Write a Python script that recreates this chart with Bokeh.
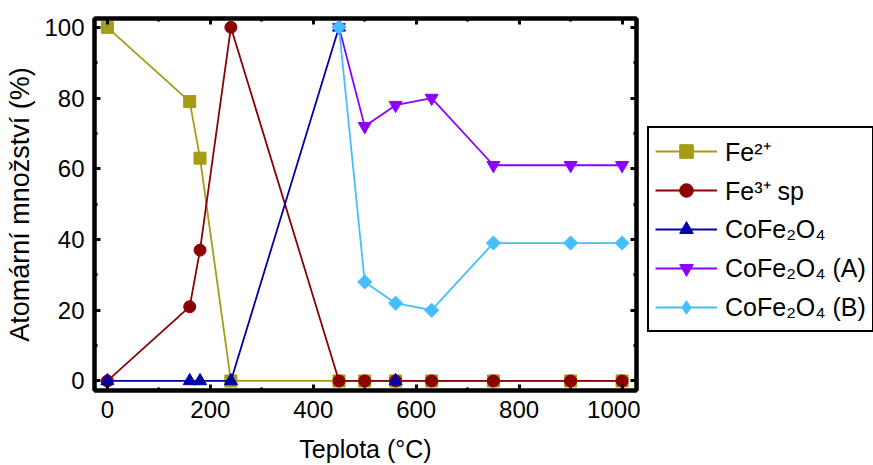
import numpy as np
from bokeh.plotting import figure
from bokeh.layouts import row
from bokeh.models import (ColumnDataSource, LinearAxis, SingleIntervalTicker, Range1d,
                          Legend, CustomJSTickFormatter)
from bokeh.embed import file_html
from bokeh.resources import INLINE

nan = float("nan")
temps = [0, 160, 180, 240, 450, 500, 560, 630, 750, 900, 1000]
fe2 = [100, 79, 63, 0, 0, 0, 0, 0, 0, 0, 0]
fe3_sp = [0, 21, 37, 100, 0, 0, 0, 0, 0, 0, 0]
cofe2o4 = [0, 0, 0, 0, 100, nan, 0, nan, nan, nan, nan]
cofe2o4_a = [nan, nan, nan, nan, 100, 72, 78, 80, 61, 61, 61]
cofe2o4_b = [nan, nan, nan, nan, 100, 28, 22, 20, 39, 39, 39]

labels = ["Fe²⁺", "Fe³⁺ sp", "CoFe₂O₄", "CoFe₂O₄ (A)", "CoFe₂O₄ (B)"]
colors = ["#A39C14", "#8B0000", "#0000A8", "#8C00FF", "#45BEFF"]
markers = ["square", "circle", "triangle", "inverted_triangle", "square"]
legend_markers = ["square", "circle", "triangle", "inverted_triangle", "diamond"]
angles = [0, 0, 0, 0, np.pi / 4]
sizes = [12, 12, 13, 13, 10]
series = [fe2, fe3_sp, cofe2o4, cofe2o4_a, cofe2o4_b]

FONT = "Liberation Sans"

p = figure(width=640, height=465, output_backend="svg", toolbar_location=None,
           x_range=Range1d(-25, 1028), y_range=Range1d(-2.7, 102.5),
           min_border_left=94, min_border_top=18, min_border_right=4,
           min_border_bottom=75)
p.background_fill_color = "white"
p.border_fill_color = "white"
p.grid.visible = False
p.outline_line_color = "black"
p.outline_line_width = 4

for col, mk, ang, sz, ys in zip(colors, markers, angles, sizes, series):
    src = ColumnDataSource(dict(x=temps, y=ys))
    p.line("x", "y", source=src, line_color=col, line_width=1.8)
    p.scatter("x", "y", source=src, marker=mk, size=sz, angle=ang,
              fill_color=col, line_color=col, line_width=1)

def style_axis(ax, show_labels=True):
    ax.axis_line_width = 4
    ax.axis_line_color = "black"
    ax.major_tick_line_width = 3
    ax.minor_tick_line_width = 3
    ax.major_tick_in = 6
    ax.major_tick_out = 0
    ax.minor_tick_in = 3
    ax.minor_tick_out = 0
    ax.major_label_text_font = FONT
    ax.major_label_text_font_size = "24px"
    ax.major_label_text_color = "black"
    ax.axis_label_text_font = FONT
    ax.axis_label_text_font_size = "25px"
    ax.axis_label_text_font_style = "normal"
    ax.axis_label_text_color = "black"
    if not show_labels:
        ax.formatter = CustomJSTickFormatter(code="return ''")
        ax.major_label_standoff = 0

p.xaxis.ticker = SingleIntervalTicker(interval=200, num_minor_ticks=2)
p.yaxis.ticker = SingleIntervalTicker(interval=20, num_minor_ticks=2)
p.xaxis.axis_label = "Teplota (°C)"
p.yaxis.axis_label = "Atomární množství (%)"
style_axis(p.xaxis[0])
style_axis(p.yaxis[0])
p.yaxis.axis_label_text_font_size = "27px"
p.xaxis.major_label_standoff = 10
p.yaxis.major_label_standoff = 10
p.xaxis.axis_label_standoff = 14
p.yaxis.axis_label_standoff = 6

top = LinearAxis(ticker=SingleIntervalTicker(interval=200, num_minor_ticks=2))
right = LinearAxis(ticker=SingleIntervalTicker(interval=20, num_minor_ticks=2))
style_axis(top, False)
style_axis(right, False)
p.add_layout(top, "above")
p.add_layout(right, "right")

# legend panel
lf = figure(width=233, height=465, output_backend="svg", toolbar_location=None,
            x_range=Range1d(0, 1), y_range=Range1d(0, 1),
            x_axis_type=None, y_axis_type=None, min_border=0)
lf.grid.visible = False
lf.outline_line_color = None
lf.background_fill_color = "white"
lf.border_fill_color = "white"

items = []
for lab, col, mk in zip(labels, colors, legend_markers):
    dummy = ColumnDataSource(dict(x=[nan], y=[nan]))
    r1 = lf.line("x", "y", source=dummy, line_color=col, line_width=1.8)
    r2 = lf.scatter("x", "y", source=dummy, marker=mk, fill_color=col,
                    line_color=col, line_width=1)
    items.append((lab, [r1, r2]))

legend = Legend(items=items, location=(7, 58))
legend.label_text_font = FONT
legend.label_text_font_size = "25px"
legend.label_text_color = "black"
legend.glyph_width = 62
legend.glyph_height = 34
legend.label_height = 33
legend.spacing = 5
legend.padding = 6
legend.margin = 0
legend.label_standoff = 8
legend.border_line_color = "black"
legend.border_line_alpha = 1
legend.border_line_width = 2
legend.background_fill_color = "white"
legend.background_fill_alpha = 1
lf.add_layout(legend, "center")

layout = row(p, lf, spacing=0)
open("out.html", "w").write(file_html(layout, INLINE))
